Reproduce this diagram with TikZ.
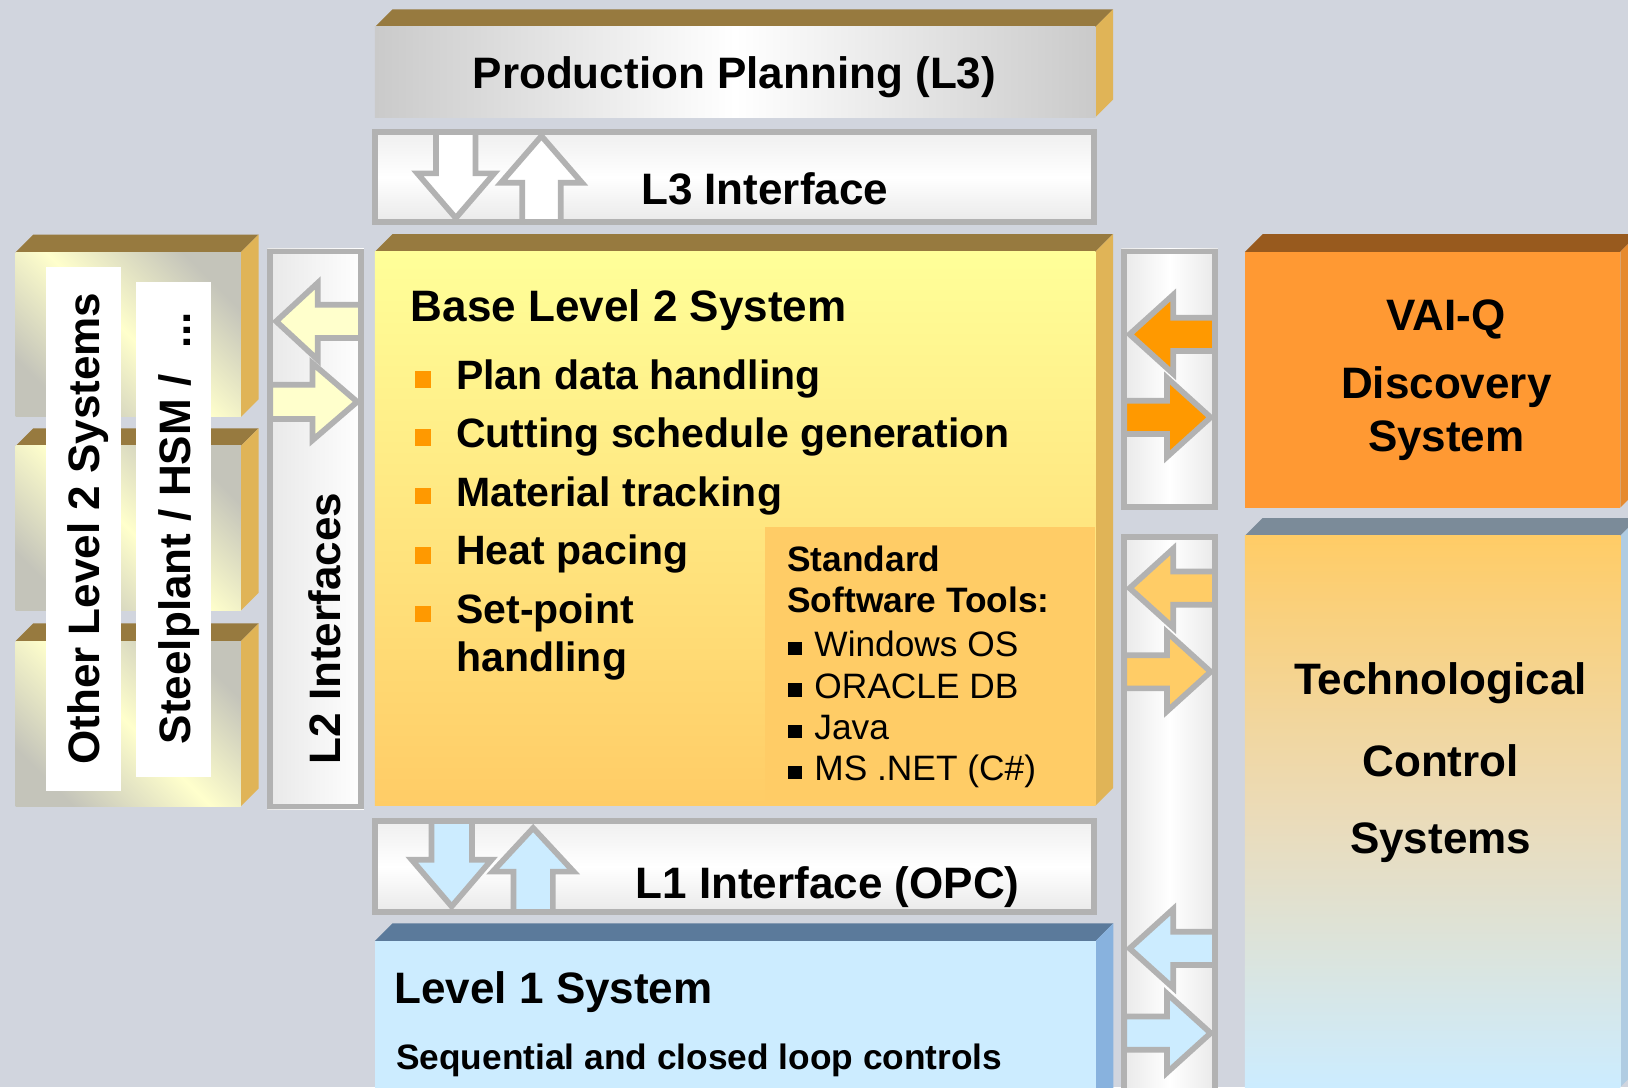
\documentclass[tikz,border=0pt]{standalone}
\usepackage{fontspec}
\setmainfont{Liberation Sans}
\definecolor{bg}{HTML}{D1D5DE}
\definecolor{goldtop}{HTML}{977A3F}
\definecolor{goldside}{HTML}{E0B457}
\definecolor{bord}{HTML}{B2B2B2}
\definecolor{paleyel}{HTML}{FFFFCC}
\definecolor{lblue}{HTML}{CCECFF}
\definecolor{orangeA}{HTML}{FF9900}
\definecolor{orangeB}{HTML}{FFCC66}
\definecolor{vaifront}{HTML}{FF9933}
\definecolor{vaitop}{HTML}{985A1E}
\definecolor{vaiside}{HTML}{E68A2E}
\definecolor{techtop}{HTML}{7B8B99}
\definecolor{techside}{HTML}{B0CCE2}
\definecolor{techmid}{HTML}{EBDBB8}
\definecolor{lonetop}{HTML}{5B7A9B}
\definecolor{loneside}{HTML}{88B2DE}
\definecolor{yeltop}{HTML}{FFFF99}
\definecolor{shgray}{HTML}{CACACA}
\definecolor{stackgray}{HTML}{C4C4BA}
\definecolor{ltgrayA}{HTML}{E8E8E8}
\definecolor{ltgrayB}{HTML}{EEEEEE}
\tikzset{
  bigt/.style={inner sep=0pt, font=\bfseries\fontsize{21.2}{25}\selectfont},
  bult/.style={inner sep=0pt, anchor=base west, font=\bfseries\fontsize{19.75}{23}\selectfont},
  smallb/.style={inner sep=0pt, anchor=base west, font=\bfseries\fontsize{17.0}{20}\selectfont},
  smallr/.style={inner sep=0pt, anchor=base west, font=\fontsize{17.0}{20}\selectfont},
  bordline/.style={draw=bord, line width=2.75pt},
  arrowline/.style={draw=bord, line width=2.75pt, line join=miter},
  ppface/.style={left color=shgray, right color=shgray, middle color=white},
  stackface/.style={top color=stackgray, bottom color=stackgray, middle color=paleyel, shading angle=-45},
  basetwoface/.style={top color=yeltop, bottom color=orangeB},
  techface/.style={top color=orangeB, bottom color=lblue, middle color=techmid},
  hiface/.style={top color=ltgrayB, bottom color=ltgrayA, middle color=white},
  viface/.style={left color=ltgrayA, right color=ltgrayA, middle color=white},
  ltwoface/.style={left color=ltgrayA, right color=white},
}
% 3D box: x1 y1 x2 y2 frontstyle topcolor sidecolor
\newcommand{\bevelbox}[7]{%
  \fill[#6] (#1,#2) -- (#1+17,#2-17) -- (#3+17,#2-17) -- (#3,#2) -- cycle;
  \fill[#7] (#3,#2) -- (#3+17,#2-17) -- (#3+17,#4-17) -- (#3,#4) -- cycle;
  \path[#5] (#1,#2) rectangle (#3,#4);}
% interface frame: x1 y1 x2 y2 fillstyle
\newcommand{\ifacebox}[5]{%
  \path[#5] (#1,#2) rectangle (#3,#4);
  \draw[bordline] (#1+2.75,#2+2.75) rectangle (#3-2.75,#4-2.75);}
% horizontal block arrow: cy tipx basex endx headhalf shafthalf fill
\newcommand{\harrow}[7]{%
  \draw[arrowline, fill=#7] (#4,#1-#6) -- (#3,#1-#6) -- (#3,#1-#5) -- (#2,#1)
    -- (#3,#1+#5) -- (#3,#1+#6) -- (#4,#1+#6) -- cycle;}
% vertical block arrow: cx tipy basey endy headhalf shafthalf fill
\newcommand{\varrow}[7]{%
  \draw[arrowline, fill=#7] (#1-#6,#4) -- (#1-#6,#3) -- (#1-#5,#3) -- (#1,#2)
    -- (#1+#5,#3) -- (#1+#6,#3) -- (#1+#6,#4) -- cycle;}
\begin{document}
\begin{tikzpicture}[x=0.5pt,y=-0.5pt]
\useasboundingbox (0,0) rectangle (1568,1047);
\clip (0,0) rectangle (1568,1047);
\fill[bg] (0,0) rectangle (1568,1047);

% ---------- Production planning ----------
\bevelbox{361}{26}{1055}{113}{ppface}{goldtop}{goldside}
\node[bigt, anchor=base] (pp) at (707.3,85) {Production Planning (L3)};

% ---------- L3 interface ----------
\ifacebox{358.5}{124.5}{1056.5}{216.5}{hiface}
\varrow{439}{210}{167}{127.25}{37}{19}{white}
\varrow{521.5}{131}{176}{213.75}{39}{18.5}{white}
\node[bigt, anchor=base] (lthree) at (736.5,197) {L3 Interface};

% ---------- Left stack ----------
\bevelbox{15}{243}{232}{401.6}{stackface}{goldtop}{goldside}
\bevelbox{15}{429.5}{232}{588}{stackface}{goldtop}{goldside}
\bevelbox{15}{617.5}{232}{776.5}{stackface}{goldtop}{goldside}
\fill[white] (44.3,257) rectangle (116.2,761.5);
\fill[white] (131,271.6) rectangle (203,748);
\node[bigt, anchor=base west, rotate=90] (other) at (95.5,737) {Other Level 2 Systems};
\node[bigt, anchor=base west, rotate=90] (steel) at (183,717) {Steelplant / HSM /\hspace{12.5pt}...};

% ---------- L2 interfaces ----------
\ifacebox{257.5}{239.5}{350.5}{779.5}{ltwoface}
\harrow{309.5}{266}{306}{347.75}{37}{16}{paleyel}
\harrow{387}{344}{301}{260.25}{37}{16.5}{paleyel}
\node[bigt, anchor=base west, rotate=90] (ltwo) at (328,736.6) {L2 Interfaces};

% ---------- Base Level 2 ----------
\bevelbox{361}{242.5}{1055}{776}{basetwoface}{goldtop}{goldside}
\fill[orangeB] (737,507.5) rectangle (1055,776);
\node[bigt, anchor=base west] (base) at (395.3,310) {Base Level 2 System};
\foreach \cy in {365.5,421.2,477.9,534.9,591.3}
  \fill[orangeA] (399.5,\cy-8) rectangle (415.5,\cy+8);
\node[bult] (bA) at (439,375.5) {Plan data handling};
\node[bult] (bB) at (439,431) {Cutting schedule generation};
\node[bult] (bC) at (439,487.8) {Material tracking};
\node[bult] (bD) at (439,544) {Heat pacing};
\node[bult] (bE) at (439,600.2) {Set-point};
\node[bult] (bF) at (439,647.2) {handling};
\node[smallb] (stA) at (758,550.6) {Standard};
\node[smallb] (stB) at (758,590) {Software Tools:};
\foreach \cy in {624.5,664.6,704.7,743.9}
  \fill[black] (759.4,\cy-6.35) rectangle (772.1,\cy+6.35);
\node[smallr] (tA) at (784,632.5) {Windows OS};
\node[smallr] (tB) at (784,672.6) {ORACLE DB};
\node[smallr] (tC) at (784,712.7) {Java};
\node[smallr] (tD) at (784,751.9) {MS .NET (C\#)};

% ---------- L1 interface ----------
\ifacebox{358.5}{788}{1056.5}{881}{hiface}
\varrow{435}{873}{828}{790.75}{38.5}{19.5}{lblue}
\varrow{513.5}{797.5}{839.5}{878.25}{39}{19}{lblue}
\node[bigt, anchor=base] (lone) at (797,865) {L1 Interface (OPC)};

% ---------- Level 1 ----------
\bevelbox{361}{906.3}{1055.3}{1070}{fill=lblue}{lonetop}{loneside}
\node[bigt, anchor=base west] (levone) at (379.6,966.3) {Level 1 System};
\node[smallb] (seq) at (381.2,1030.5) {Sequential and closed loop controls};

% ---------- right interface column ----------
\ifacebox{1080}{239.5}{1173}{491}{viface}
\harrow{322}{1088}{1130}{1170.25}{38}{16}{orangeA}
\harrow{402}{1166}{1124}{1082.75}{38}{16}{orangeA}
\ifacebox{1080}{514.5}{1173}{1070}{viface}
\harrow{566.5}{1088}{1130}{1170.25}{38}{16}{orangeB}
\harrow{647}{1166}{1124}{1082.75}{38}{16}{orangeB}
\harrow{913.5}{1088}{1130}{1170.25}{38}{16}{lblue}
\harrow{995}{1166}{1124}{1082.75}{38}{16}{lblue}

% ---------- VAI-Q ----------
\bevelbox{1199}{242.6}{1560.6}{488.8}{fill=vaifront}{vaitop}{vaiside}
\node[bigt, anchor=base] (vaiA) at (1393,318.5) {VAI-Q};
\node[bigt, anchor=base] (vaiB) at (1393,383.9) {Discovery};
\node[bigt, anchor=base] (vaiC) at (1393,435.3) {System};

% ---------- Technological control ----------
\bevelbox{1199}{516}{1560.6}{1047}{techface}{techtop}{techside}
\node[bigt, anchor=base] (tcA) at (1387.5,668.7) {Technological};
\node[bigt, anchor=base] (tcB) at (1387.5,747.4) {Control};
\node[bigt, anchor=base] (tcC) at (1387.5,821.9) {Systems};
\end{tikzpicture}
\end{document}
